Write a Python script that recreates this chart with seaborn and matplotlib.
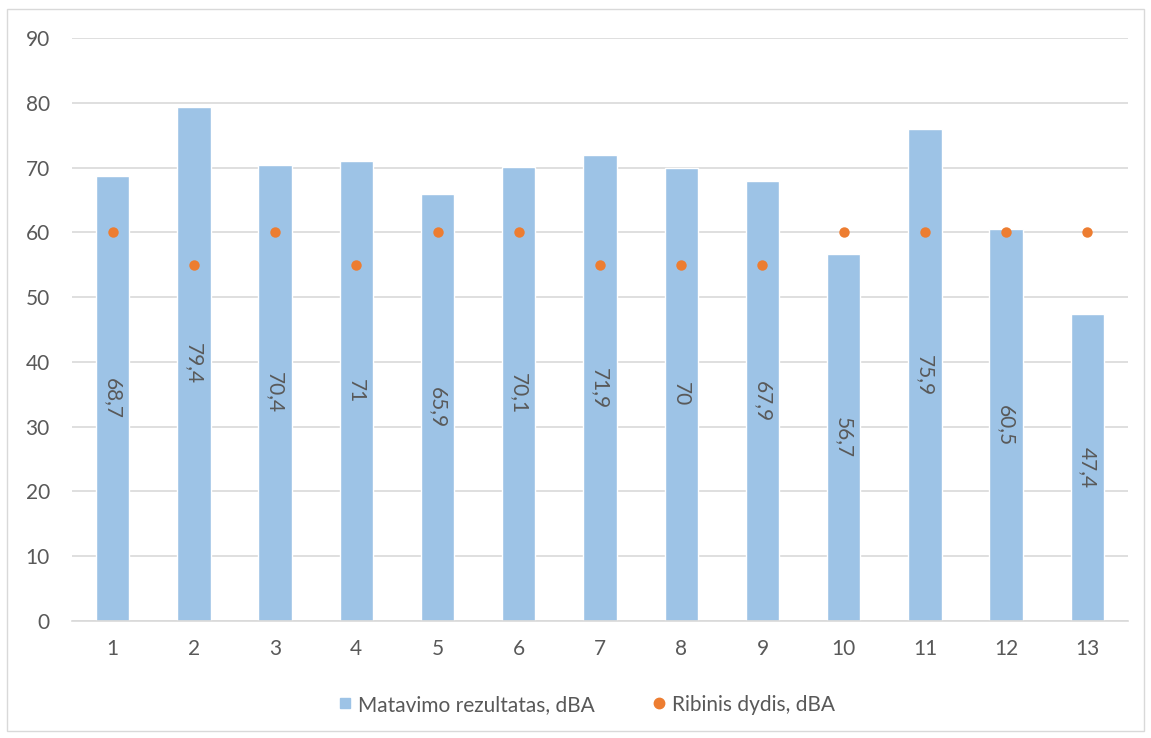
import matplotlib
matplotlib.use("Agg")
import matplotlib.pyplot as plt
import seaborn as sns
import pandas as pd
from matplotlib.patches import Rectangle
from matplotlib.lines import Line2D

points = ["1", "2", "3", "4", "5", "6", "7", "8", "9", "10", "11", "12", "13"]
measured = [68.7, 79.4, 70.4, 71.0, 65.9, 70.1, 71.9, 70.0, 67.9, 56.7, 75.9, 60.5, 47.4]
limit = [60, 55, 60, 55, 60, 60, 55, 55, 55, 60, 60, 60, 60]
y_ticks = [0, 10, 20, 30, 40, 50, 60, 70, 80, 90]

bar_name = "Matavimo rezultatas, dBA"
dot_name = "Ribinis dydis, dBA"
bar_color = "#9DC3E6"
dot_color = "#ED7D31"
text_color = "#595959"

df = pd.DataFrame({"point": points, "measured": measured, "limit": limit})

sns.set_theme(style="white")
plt.rcParams["font.family"] = ["Lato", "DejaVu Sans"]

fig = plt.figure(figsize=(11.51, 7.38), dpi=100)
ax = fig.add_axes([0.0626, 0.1585, 0.9174, 0.79])

sns.barplot(data=df, x="point", y="measured", color=bar_color, saturation=1,
            width=0.41, ax=ax, zorder=2)
sns.stripplot(data=df, x="point", y="limit", color=dot_color, jitter=False,
              size=7.5, linewidth=0, ax=ax, zorder=3)

labels = [f"{v:g}".replace(".", ",") for v in measured]
ax.bar_label(ax.containers[0], labels=labels, label_type="center",
             rotation=270, color=text_color, fontsize=15)

ax.set_ylim(0, 90)
ax.set_xlim(-0.5, len(points) - 0.5)
ax.set_yticks(y_ticks)
ax.yaxis.grid(True, color="#D9D9D9", linewidth=1.2, zorder=0)
ax.set_axisbelow(True)
for side in ["top", "right", "left"]:
    ax.spines[side].set_visible(False)
ax.spines["bottom"].set_color("#D9D9D9")
ax.spines["bottom"].set_linewidth(1.2)
ax.set_xlabel("")
ax.set_ylabel("")
ax.tick_params(axis="both", colors=text_color, labelsize=15, length=0)
ax.tick_params(axis="y", pad=16)
ax.tick_params(axis="x", pad=13)

handles = [
    Line2D([], [], marker="s", linestyle="none", color=bar_color, markersize=7.5),
    Line2D([], [], marker="o", linestyle="none", color=dot_color, markersize=7.5),
]
fig.legend(handles, [bar_name, dot_name], loc="center", bbox_to_anchor=(0.508, 0.045),
           ncol=2, frameon=False, fontsize=15, labelcolor=text_color,
           handletextpad=0.1, columnspacing=2.6, handlelength=1.0)

fig.patches.append(Rectangle((0.006, 0.01), 0.988, 0.978, transform=fig.transFigure,
                             fill=False, edgecolor="#D9D9D9", linewidth=1.0))

fig.savefig("out.png", dpi=100, facecolor="white")
